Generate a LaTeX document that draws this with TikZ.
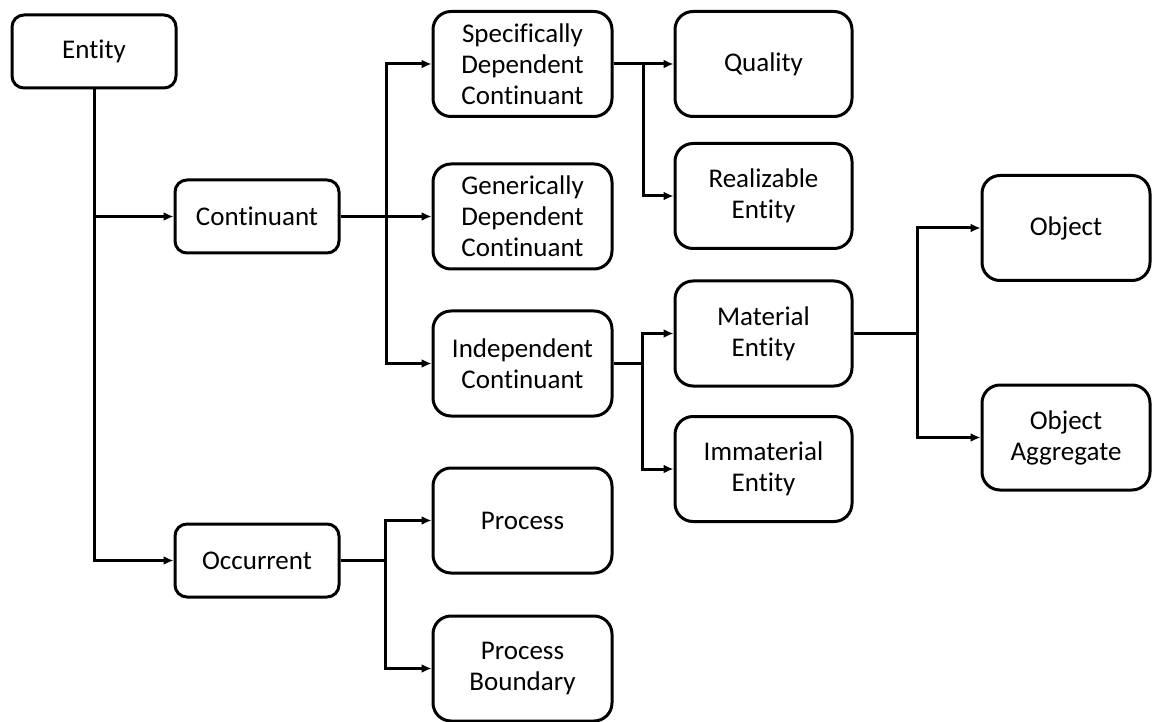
\documentclass[tikz,border=0pt]{standalone}
\usepackage{fontspec}
\setmainfont{Carlito}[Ligatures=NoCommon]
\usetikzlibrary{arrows.meta}
\begin{document}
\begin{tikzpicture}[x=1pt,y=-1pt,
  box/.style={draw=black,line width=3pt,fill=white,align=center,inner sep=0pt,
    font=\fontsize{27}{31}\selectfont},
  smallbox/.style={box,minimum width=164pt,minimum height=73pt,rounded corners=12pt},
  bigbox/.style={box,minimum width=179pt,minimum height=105pt,rounded corners=18pt},
  leafbox/.style={box,minimum width=177pt,minimum height=105pt,rounded corners=18pt},
  objbox/.style={box,minimum width=168pt,minimum height=105pt,rounded corners=18pt},
  link/.style={draw=black,line width=3pt},
  arr/.style={link,-{Latex[length=10pt,width=9pt]}}]
\useasboundingbox (0,0) rectangle (1152,722);

% top levels
\node[smallbox] (entity) at (94,51.5) {Entity};
\node[smallbox] (cont) at (257,216.5) {Continuant};
\node[smallbox] (occ) at (257,560.5) {Occurrent};

% continuant branch
\node[bigbox] (sdc) at (522.5,64) {Specifically\\Dependent\\Continuant};
\node[bigbox] (gdc) at (522.5,216.5) {Generically\\Dependent\\Continuant};
\node[bigbox] (ic) at (522.5,363.5) {Independent\\Continuant};

% occurrent branch
\node[bigbox] (proc) at (522.5,520.5) {Process};
\node[bigbox] (pb) at (522.5,668.5) {Process\\Boundary};

% dependent / independent subtypes
\node[leafbox] (qual) at (763.5,64) {Quality};
\node[leafbox] (real) at (763.5,196) {Realizable\\Entity};
\node[leafbox] (mat) at (763.5,333.5) {Material\\Entity};
\node[leafbox] (imm) at (763.5,469) {Immaterial\\Entity};

% material entity subtypes
\node[objbox] (obj) at (1066,228) {Object};
\node[objbox] (agg) at (1066,437.5) {Object\\Aggregate};

% junction points
\coordinate (je) at (94,216.5);
\coordinate (jc) at (386,216.5);
\coordinate (js) at (643,64);
\coordinate (ji) at (642,363.5);
\coordinate (jm) at (917,333.5);
\coordinate (jo) at (385,560.5);

% connectors
\draw[link] (entity.south) -- (je);
\draw[arr] (je) -- (cont.west);
\draw[arr] (je) |- (occ.west);

\draw[arr] (cont.east) -- (gdc.west);
\draw[arr] (jc) |- (sdc.west);
\draw[arr] (jc) |- (ic.west);

\draw[arr] (sdc.east) -- (qual.west);
\draw[arr] (js) |- (real.west);

\draw[link] (ic.east) -- (ji);
\draw[arr] (ji) |- (mat.west);
\draw[arr] (ji) |- (imm.west);

\draw[link] (mat.east) -- (jm);
\draw[arr] (jm) |- (obj.west);
\draw[arr] (jm) |- (agg.west);

\draw[link] (occ.east) -- (jo);
\draw[arr] (jo) |- (proc.west);
\draw[arr] (jo) |- (pb.west);
\end{tikzpicture}
\end{document}
